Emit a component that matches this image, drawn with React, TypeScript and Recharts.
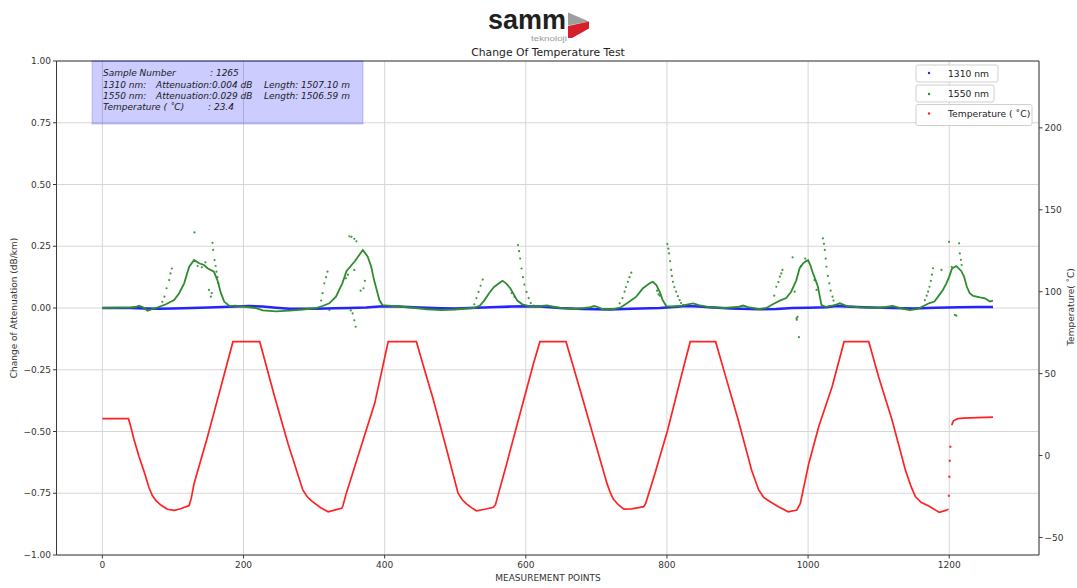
import React from 'react';
import { ComposedChart, Line, Scatter, XAxis, YAxis, CartesianGrid, ReferenceLine } from 'recharts';

type Pt = [number, number];

const xTicks = [0, 200, 400, 600, 800, 1000, 1200];
const attTicks = [-1, -0.75, -0.5, -0.25, 0, 0.25, 0.5, 0.75, 1];
const tempTicks = [-50, 0, 50, 100, 150, 200];

// Temperature (°C) vs measurement point
const temperatureCurve: Pt[] = [
  [0, 22.5], [37, 22.5], [40, 18], [45, 9.5], [52, -0.7], [60, -11], [66, -19.5], [71, -24.6], [76, -27.5], [83, -30.2], [92, -32.8], [102, -33.5], [111, -32.5], [118, -31.3], [123, -30.5], [126, -26], [130, -17], [149, 11.5], [168, 42], [185, 69.5], [223, 69.5],
  [244, 36], [263, 7.4], [284, -21], [290, -25], [296, -27.5], [301, -29.2], [310, -32], [320, -34.3], [330, -33.2], [339, -32.2], [341, -30.5], [345, -24], [362, -0.7], [386, 32], [405, 69.5], [445, 69.5],
  [454, 56], [469, 34], [488, 3.4], [504, -23], [510, -27], [516, -29.5], [523, -31.8], [530, -33.7], [542, -32.8], [554, -31.6], [557, -30], [573, -4.8], [592, 25.8], [611, 56.3], [620, 69.5], [657, 69.5],
  [677, 40], [696, 11.5], [715, -17], [720, -23], [724, -26.5], [731, -30], [739, -32.7], [750, -32.6], [760, -31.8], [767, -31.2], [770, -29], [783, -11], [801, 15.6], [813, 36], [825, 56.3], [833, 69.5], [869, 69.5],
  [882, 50], [901, 21.7], [920, -9], [930, -21], [937, -25.5], [944, -27.6], [958, -31.3], [972, -34.3], [984, -33.3], [989, -29.2], [1001, -4.8], [1015, 17.6], [1034, 42], [1051, 69.5], [1086, 69.5],
  [1100, 48], [1119, 21.7], [1138, -9], [1146, -19], [1152, -25], [1160, -28.5], [1171, -30.8], [1186, -34.7], [1195, -33.5], [1199, -32.8],
];
const temperatureJump: Pt[] = [[1199.5, -24.5], [1200.2, -12.9], [1200.8, -3.2], [1201.6, 5.4]];
const temperatureEnd: Pt[] = [[1203.5, 18.6], [1206, 21.2], [1212, 22.5], [1220, 22.8], [1240, 23.2], [1262, 23.4]];

// 1310 nm change of attenuation (dB/km)
const att1310: Pt[] = [
  [0, 0], [20, 0], [40, 0], [60, -0.002], [80, -0.003], [100, -0.002], [127, 0], [150, 0.002], [180, 0.005], [208, 0.008], [227, 0.006], [246, 0.001], [265, -0.003], [284, -0.003], [303, -0.003], [330, -0.001], [350, 0], [374, 0.002], [397, 0.007], [420, 0.006], [440, 0.003], [460, 0.001], [480, -0.001], [500, -0.002], [520, 0], [540, 0.002], [560, 0.004], [580, 0.006], [600, 0.007], [620, 0.006], [648, 0], [680, -0.004], [719, -0.006], [750, -0.003], [790, 0], [810, 0.004], [827, 0.008], [845, 0.006], [860, 0.003], [890, -0.002], [931, -0.005], [955, -0.004], [978, 0], [1000, 0.001], [1026, 0.003], [1040, 0.008], [1060, 0.005], [1090, 0.002], [1120, 0], [1150, -0.002], [1180, 0.001], [1215, 0.003], [1240, 0.004], [1262, 0.004],
];

// 1550 nm change of attenuation (dB/km): dense trace and scattered points
const att1550Trace: Pt[] = [
  [0, 0], [20, 0.001], [40, 0.002], [47, 0.004], [52, 0.009], [57, 0.004], [64, -0.011], [71, -0.004], [80, 0.004], [90, 0.015], [101.7, 0.032], [108.8, 0.06], [115.9, 0.1], [123, 0.167], [130, 0.194], [137, 0.181], [144, 0.174], [149, 0.161], [158, 0.147], [163, 0.113], [168, 0.06], [172.6, 0.026], [180, 0.008], [189, 0.01], [199, 0.006], [217, 0], [227, -0.01], [246, -0.014], [265, -0.011], [284, -0.006], [303, 0],
  [312, 0.008], [321.6, 0.019], [331, 0.046], [340, 0.1], [346, 0.15], [352, 0.17], [358, 0.19], [364, 0.215], [369, 0.235], [376, 0.208], [381, 0.167], [385, 0.113], [390, 0.06], [392.5, 0.032], [397, 0.012], [405, 0.01], [420, 0.006], [440, 0.001], [460, -0.005], [480, -0.008], [500, -0.006], [515, -0.002],
  [527, 0], [535, 0.01], [541, 0.03], [548, 0.06], [555, 0.085], [562, 0.1], [567, 0.11], [572, 0.1], [578, 0.08], [583, 0.055], [588, 0.03], [595, 0.015], [605, 0.008], [615, 0.006], [630, 0.01], [648, 0], [670, -0.004], [690, 0.002], [697, 0.008], [703, 0.003], [709, -0.005],
  [723.5, -0.005], [735, 0.003], [747, 0.026], [756.6, 0.046], [766, 0.08], [775.5, 0.1], [780, 0.106], [785, 0.093], [789.6, 0.066], [794, 0.032], [799, 0.008], [810, 0.006], [822, 0.01], [830, 0.015], [837, 0.019], [845, 0.012], [860, 0.003], [880, 0], [900, 0.004], [908, 0.01], [915, 0.004], [931, -0.005],
  [941, 0], [950, 0.015], [960, 0.03], [969, 0.04], [976, 0.066], [983, 0.11], [988, 0.161], [993, 0.181], [997, 0.19], [1000, 0.194], [1003, 0.175], [1007, 0.14], [1011, 0.11], [1014, 0.086], [1016.6, 0.046], [1019, 0.012], [1025, 0.005], [1038, 0.012], [1045, 0.019], [1055, 0.008], [1073, 0.003], [1100, 0], [1120, 0.008], [1130, 0], [1144, -0.008],
  [1153.7, -0.005], [1158, 0], [1165, 0.01], [1172, 0.02], [1179, 0.026], [1186, 0.053], [1191, 0.073], [1196, 0.1], [1200, 0.127], [1204, 0.16], [1210, 0.17], [1217, 0.15], [1221, 0.127], [1225, 0.086], [1229, 0.06], [1234, 0.049], [1243.5, 0.043], [1250.6, 0.039], [1257.7, 0.026], [1262, 0.03],
];
const att1550Dots: Pt[] = [
  [81, 0.005], [85, 0.025], [88, 0.046], [91, 0.08], [94.6, 0.113], [96.5, 0.14], [98.4, 0.16], [130.5, 0.306], [151, 0.073], [153.7, 0.046], [155, 0.06], [156, 0.264], [157, 0.235], [159, 0.194], [160.5, 0.17], [161.7, 0.147], [163, 0.125], [164.6, 0.1], [135, 0.17], [141, 0.165], [146, 0.185],
  [310, 0.03], [312, 0.06], [314.5, 0.1], [317, 0.125], [319, 0.147], [321.6, -0.008], [350, 0.29], [353, 0.288], [357, 0.28], [360, 0.27], [357, 0.154], [352, -0.01], [354.6, -0.022], [357, -0.05], [359, -0.076], [366, 0.07], [370, 0.08], [372, 0.11], [345, 0.12], [348, 0.135],
  [527, 0.015], [530, 0.04], [533, 0.065], [536, 0.09], [539, 0.115], [580, 0.06], [584, 0.045], [589, 0.255], [590.5, 0.23], [592, 0.2], [594, 0.16], [596, 0.125], [598, 0.095], [601, 0.065], [604, 0.04], [607, 0.02], [611, 0.01],
  [733, 0.019], [737, 0.04], [740, 0.066], [742, 0.085], [744.7, 0.106], [747, 0.125], [749.5, 0.143], [786, 0.07], [788, 0.055], [790, 0.05], [800.6, 0.259], [802, 0.24], [803, 0.221], [804.5, 0.19], [806, 0.154], [807, 0.13], [808.5, 0.106], [810.5, 0.085], [813, 0.066], [815.5, 0.048], [818, 0.032], [820, 0.02], [822.7, 0.012],
  [952, 0.05], [955, 0.086], [958, 0.105], [960, 0.127], [962, 0.14], [963.7, 0.154], [978, 0.205], [981, 0.066], [983.5, -0.042], [985, -0.036], [984, -0.048], [987, -0.118], [990, 0.17], [996, 0.2], [1021, 0.282], [1022.5, 0.26], [1023.7, 0.235], [1025, 0.2], [1026, 0.167], [1028, 0.13], [1030, 0.1], [1032, 0.07], [1034.6, 0.046], [1036, 0.03], [1038, 0.012], [1009, 0.113], [1012, 0.073],
  [1165.5, 0.032], [1168, 0.05], [1170, 0.066], [1172, 0.086], [1174, 0.11], [1175.5, 0.135], [1177, 0.161], [1189, 0.154], [1199.6, 0.268], [1203.4, 0.167], [1208, -0.028], [1210, -0.031], [1214, 0.262], [1215, 0.221], [1216.5, 0.195], [1217.6, 0.174],
];

const infoLines = {
  sample: '1265',
  att1310: '0.004', len1310: '1507.10',
  att1550: '0.029', len1550: '1506.59',
  temp: '23.4',
};

const rows = (pts: Pt[]) => pts.map(([x, v]) => ({ x, v }));

const FONT = '"DejaVu Sans", sans-serif';
const AXIS = '#3a3a3a';
const GREEN = '#2e8b2e';
const BLUE = '#2424ff';
const RED = '#ff2222';

const minus = (s: string) => s.replace('-', '\u2212');

const dot = (color: string, r: number) => (props: any) => {
  const { cx, cy } = props;
  if (cx == null || cy == null) return <g />;
  return <circle cx={cx} cy={cy} r={r} fill={color} fillOpacity={0.9} />;
};

export default function App() {
  const tickStyle = { fontSize: 9, fill: '#333', fontFamily: FONT };
  return (
    <div style={{ position: 'absolute', left: 0, top: 0, width: 1077, height: 588, background: '#fff' }}>
      <ComposedChart width={1077} height={588} margin={{ top: 61, right: 8, bottom: 3, left: 8.5 }}>
        <CartesianGrid yAxisId="att" stroke="#d6d6d6" strokeWidth={1} />
        <XAxis
          dataKey="x" type="number" domain={[-65, 1327.2]} ticks={xTicks} allowDataOverflow
          height={30} tickSize={3.5} tickMargin={3} stroke={AXIS} tick={tickStyle}
          tickLine={{ stroke: AXIS }} axisLine={{ stroke: AXIS }}
        />
        <YAxis
          yAxisId="att" orientation="left" type="number" domain={[-1, 1]} ticks={attTicks} allowDataOverflow
          width={48} tickSize={3.5} tickMargin={2} tick={tickStyle} stroke={AXIS}
          tickFormatter={(v: number) => minus(v.toFixed(2))}
        />
        <YAxis
          yAxisId="temp" orientation="right" type="number" domain={[-60.7, 240.8]} ticks={tempTicks} allowDataOverflow
          width={30} tickSize={3.5} tickMargin={2} tick={tickStyle} stroke={AXIS}
          tickFormatter={(v: number) => minus(String(v))}
        />
        <ReferenceLine yAxisId="att" y={1} stroke={AXIS} strokeWidth={1} />
        <Line data={rows(att1310)} dataKey="v" yAxisId="att" type="linear" stroke={BLUE} strokeWidth={2.6} dot={false} isAnimationActive={false} />
        <Line data={rows(att1550Trace)} dataKey="v" yAxisId="att" type="linear" stroke={GREEN} strokeWidth={1.8} dot={false} isAnimationActive={false} />
        <Scatter data={rows(att1550Dots)} dataKey="v" yAxisId="att" shape={dot(GREEN, 1.1)} isAnimationActive={false} />
        <Line data={rows(temperatureCurve)} dataKey="v" yAxisId="temp" type="linear" stroke={RED} strokeWidth={1.7} dot={false} isAnimationActive={false} />
        <Line data={rows(temperatureEnd)} dataKey="v" yAxisId="temp" type="linear" stroke={RED} strokeWidth={1.7} dot={false} isAnimationActive={false} />
        <Scatter data={rows(temperatureJump)} dataKey="v" yAxisId="temp" shape={dot(RED, 1.2)} isAnimationActive={false} />
      </ComposedChart>

      <svg width={1077} height={588} style={{ position: 'absolute', left: 0, top: 0, pointerEvents: 'none' }}>
        {/* logo */}
        <text x={488} y={28.5} fontSize={28} fontWeight={700} fill="#231f20" fontFamily='"Liberation Sans", sans-serif' textLength={78} lengthAdjust="spacingAndGlyphs">samm</text>
        <text x={531} y={41.3} fontSize={7.5} fill="#9a9a9a" fontFamily='"Liberation Sans", sans-serif' textLength={36} lengthAdjust="spacingAndGlyphs">teknoloji</text>
        <polygon points="568,12.5 589,21.5 568,25.5" fill="#9e9e9e" />
        <polygon points="568,26 589,21.5 589,28.5 572,38 568,38" fill="#d71f2b" />

        {/* title */}
        <text x={548} y={56} textAnchor="middle" fontSize={10.8} fill="#222" fontFamily={FONT}>Change Of Temperature Test</text>

        {/* axis labels */}
        <text transform="translate(14,308) rotate(-90)" textAnchor="middle" dominantBaseline="central" fontSize={9} fill="#333" fontFamily={FONT}>Change of Attenuation (dB/km)</text>
        <text transform="translate(1071,307) rotate(-90)" textAnchor="middle" dominantBaseline="central" fontSize={9} fill="#333" fontFamily={FONT}>Temperature( ˚C)</text>
        <text x={548} y={581} textAnchor="middle" fontSize={9} fill="#333" fontFamily={FONT}>MEASUREMENT POINTS</text>

        {/* info box */}
        <rect x={92} y={61} width={271} height={63} fill="rgb(0,0,255)" fillOpacity={0.2} stroke="rgb(0,0,255)" strokeOpacity={0.2} />
        <g fontSize={9} fill="#1a1a1a" fontFamily={FONT} fontStyle="italic">
          <text x={103} y={76}>Sample Number</text>
          <text x={210} y={76}>: {infoLines.sample}</text>
          <text x={103} y={87.5}>1310 nm:</text>
          <text x={156} y={87.5}>Attenuation:{infoLines.att1310} dB</text>
          <text x={264} y={87.5}>Length: {infoLines.len1310} m</text>
          <text x={103} y={98.5}>1550 nm:</text>
          <text x={156} y={98.5}>Attenuation:{infoLines.att1550} dB</text>
          <text x={264} y={98.5}>Length: {infoLines.len1550} m</text>
          <text x={103} y={110}>Temperature ( ˚C)</text>
          <text x={208} y={110}>: {infoLines.temp}</text>
        </g>

        {/* legends */}
        <g fontSize={9.2} fill="#222" fontFamily={FONT}>
          <rect x={916} y={65} width={82} height={17} rx={2} fill="#fff" fillOpacity={0.85} stroke="#cfcfcf" />
          <circle cx={929} cy={73} r={1.2} fill={BLUE} />
          <text x={948} y={76.5}>1310 nm</text>
          <rect x={916} y={85} width={78} height={17} rx={2} fill="#fff" fillOpacity={0.85} stroke="#cfcfcf" />
          <circle cx={929} cy={94} r={1.2} fill={GREEN} />
          <text x={948} y={96.5}>1550 nm</text>
          <rect x={916} y={104.5} width={116} height={21} rx={2} fill="#fff" fillOpacity={0.85} stroke="#cfcfcf" />
          <circle cx={929} cy={113.5} r={1.2} fill={RED} />
          <text x={948} y={117}>Temperature ( ˚C)</text>
        </g>
      </svg>
    </div>
  );
}
